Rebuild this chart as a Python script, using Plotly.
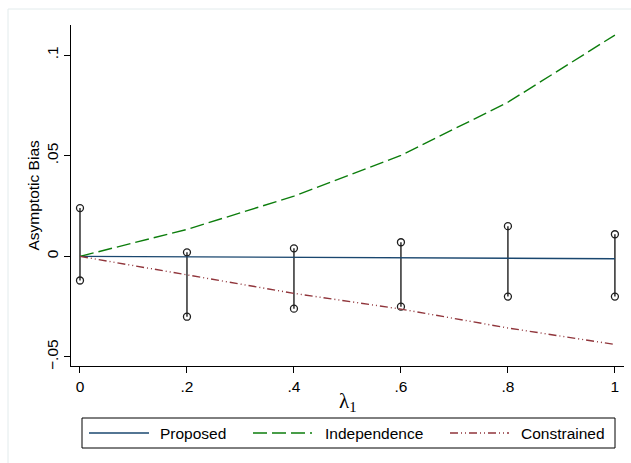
import plotly.graph_objects as go

# ---- data ----
lam = [0.0, 0.2, 0.4, 0.6, 0.8, 1.0]
proposed = [0.0, -0.0002, -0.0004, -0.0007, -0.0009, -0.0012]
independence = [0.0, 0.0134, 0.0299, 0.0502, 0.0766, 0.110]
constrained = [0.0, -0.0092, -0.0184, -0.0262, -0.0356, -0.0438]
whisk_lo = [-0.012, -0.030, -0.026, -0.025, -0.020, -0.020]
whisk_hi = [0.024, 0.002, 0.004, 0.007, 0.015, 0.011]

x_ticks = [0, 0.2, 0.4, 0.6, 0.8, 1]
x_ticktext = ["0", ".2", ".4", ".6", ".8", "1"]
y_ticks = [-0.05, 0, 0.05, 0.1]
y_ticktext = ["\u2212.05", "0", ".05", ".1"]

names = ["Proposed", "Independence", "Constrained"]
colors = ["#1a476f", "#0c7d0c", "#90353b"]
dashes = ["solid", "14px,5px", "8px,3px,1px,3px,1px,3px"]

W, H = 631, 463
L, R, T, B = 71, 624, 25, 366

def px(xp):
    return (xp - L) / (R - L)

def py(yp):
    return (B - yp) / (B - T)

FONT = "Liberation Sans, Arial, sans-serif"

fig = go.Figure()

# whiskers
wx, wy = [], []
for xv, lo, hi in zip(lam, whisk_lo, whisk_hi):
    wx += [xv, xv, None]
    wy += [lo, hi, None]
fig.add_trace(go.Scatter(x=wx, y=wy, mode="lines+markers",
                         line=dict(color="#1e1e1e", width=1.4),
                         marker=dict(symbol="circle-open", size=7,
                                     color="#1e1e1e", line=dict(width=1.3)),
                         showlegend=False, hoverinfo="skip"))

for name, ys, c, d in zip(names, [proposed, independence, constrained], colors, dashes):
    fig.add_trace(go.Scatter(x=lam, y=ys, mode="lines", name=name,
                             line=dict(color=c, width=1.4, dash=d),
                             showlegend=False))

# manual legend (Stata style)
shapes = [
    dict(type="rect", xref="paper", yref="paper",
         x0=px(8), x1=px(W + 20), y0=py(H + 20), y1=py(9),
         line=dict(color="#e2ebec", width=1), fillcolor="rgba(0,0,0,0)", layer="below"),
    dict(type="rect", xref="paper", yref="paper",
         x0=px(82), x1=px(615), y0=py(448), y1=py(418),
         line=dict(color="black", width=1), fillcolor="white"),
]
sample_x = [(89, 149), (253, 312), (450, 509)]
text_x = [158, 323, 519]
annotations = []
for (a, b), tx, name, c, d in zip(sample_x, text_x, names, colors, dashes):
    shapes.append(dict(type="line", xref="paper", yref="paper",
                       x0=px(a), x1=px(b), y0=py(433), y1=py(433),
                       line=dict(color=c, width=1.4, dash=d)))
    annotations.append(dict(xref="paper", yref="paper", x=px(tx), y=py(433),
                            text=name, showarrow=False, xanchor="left",
                            yanchor="middle", font=dict(family=FONT, size=15.5, color="black")))

annotations.append(dict(xref="paper", yref="paper", x=px(348), y=py(402),
                        text="\u03bb<sub>1</sub>", showarrow=False,
                        xanchor="center", yanchor="middle",
                        font=dict(family="Liberation Serif, Times New Roman, serif", size=21, color="black")))
annotations.append(dict(xref="paper", yref="paper", x=px(33), y=py(195.5),
                        text="Asymptotic Bias", showarrow=False, textangle=-90,
                        xanchor="center", yanchor="middle",
                        font=dict(family=FONT, size=15.5, color="black")))

fig.update_layout(
    width=W, height=H,
    margin=dict(l=L, r=W - R, t=T, b=H - B, pad=0),
    paper_bgcolor="white", plot_bgcolor="white",
    showlegend=False,
    shapes=shapes, annotations=annotations,
    font=dict(family=FONT, size=15.5, color="black"),
)
fig.update_xaxes(range=[-0.0168, 1.017], tickmode="array", tickvals=x_ticks,
                 ticktext=x_ticktext, ticks="outside", ticklen=6, tickwidth=1,
                 tickcolor="black", showline=True, linecolor="black", linewidth=1,
                 showgrid=False, zeroline=False,
                 tickfont=dict(family=FONT, size=15.5, color="black"))
fig.update_yaxes(range=[-0.0545, 0.115], tickmode="array", tickvals=y_ticks,
                 ticktext=y_ticktext, ticks="outside", ticklen=6, tickwidth=1,
                 tickcolor="black", showline=True, linecolor="black", linewidth=1,
                 showgrid=False, zeroline=False, tickangle=-90,
                 tickfont=dict(family=FONT, size=15.5, color="black"))

fig.write_html("out.html", config={"displayModeBar": False},
               post_script="document.body.style.margin='0';document.body.style.overflow='hidden';")
